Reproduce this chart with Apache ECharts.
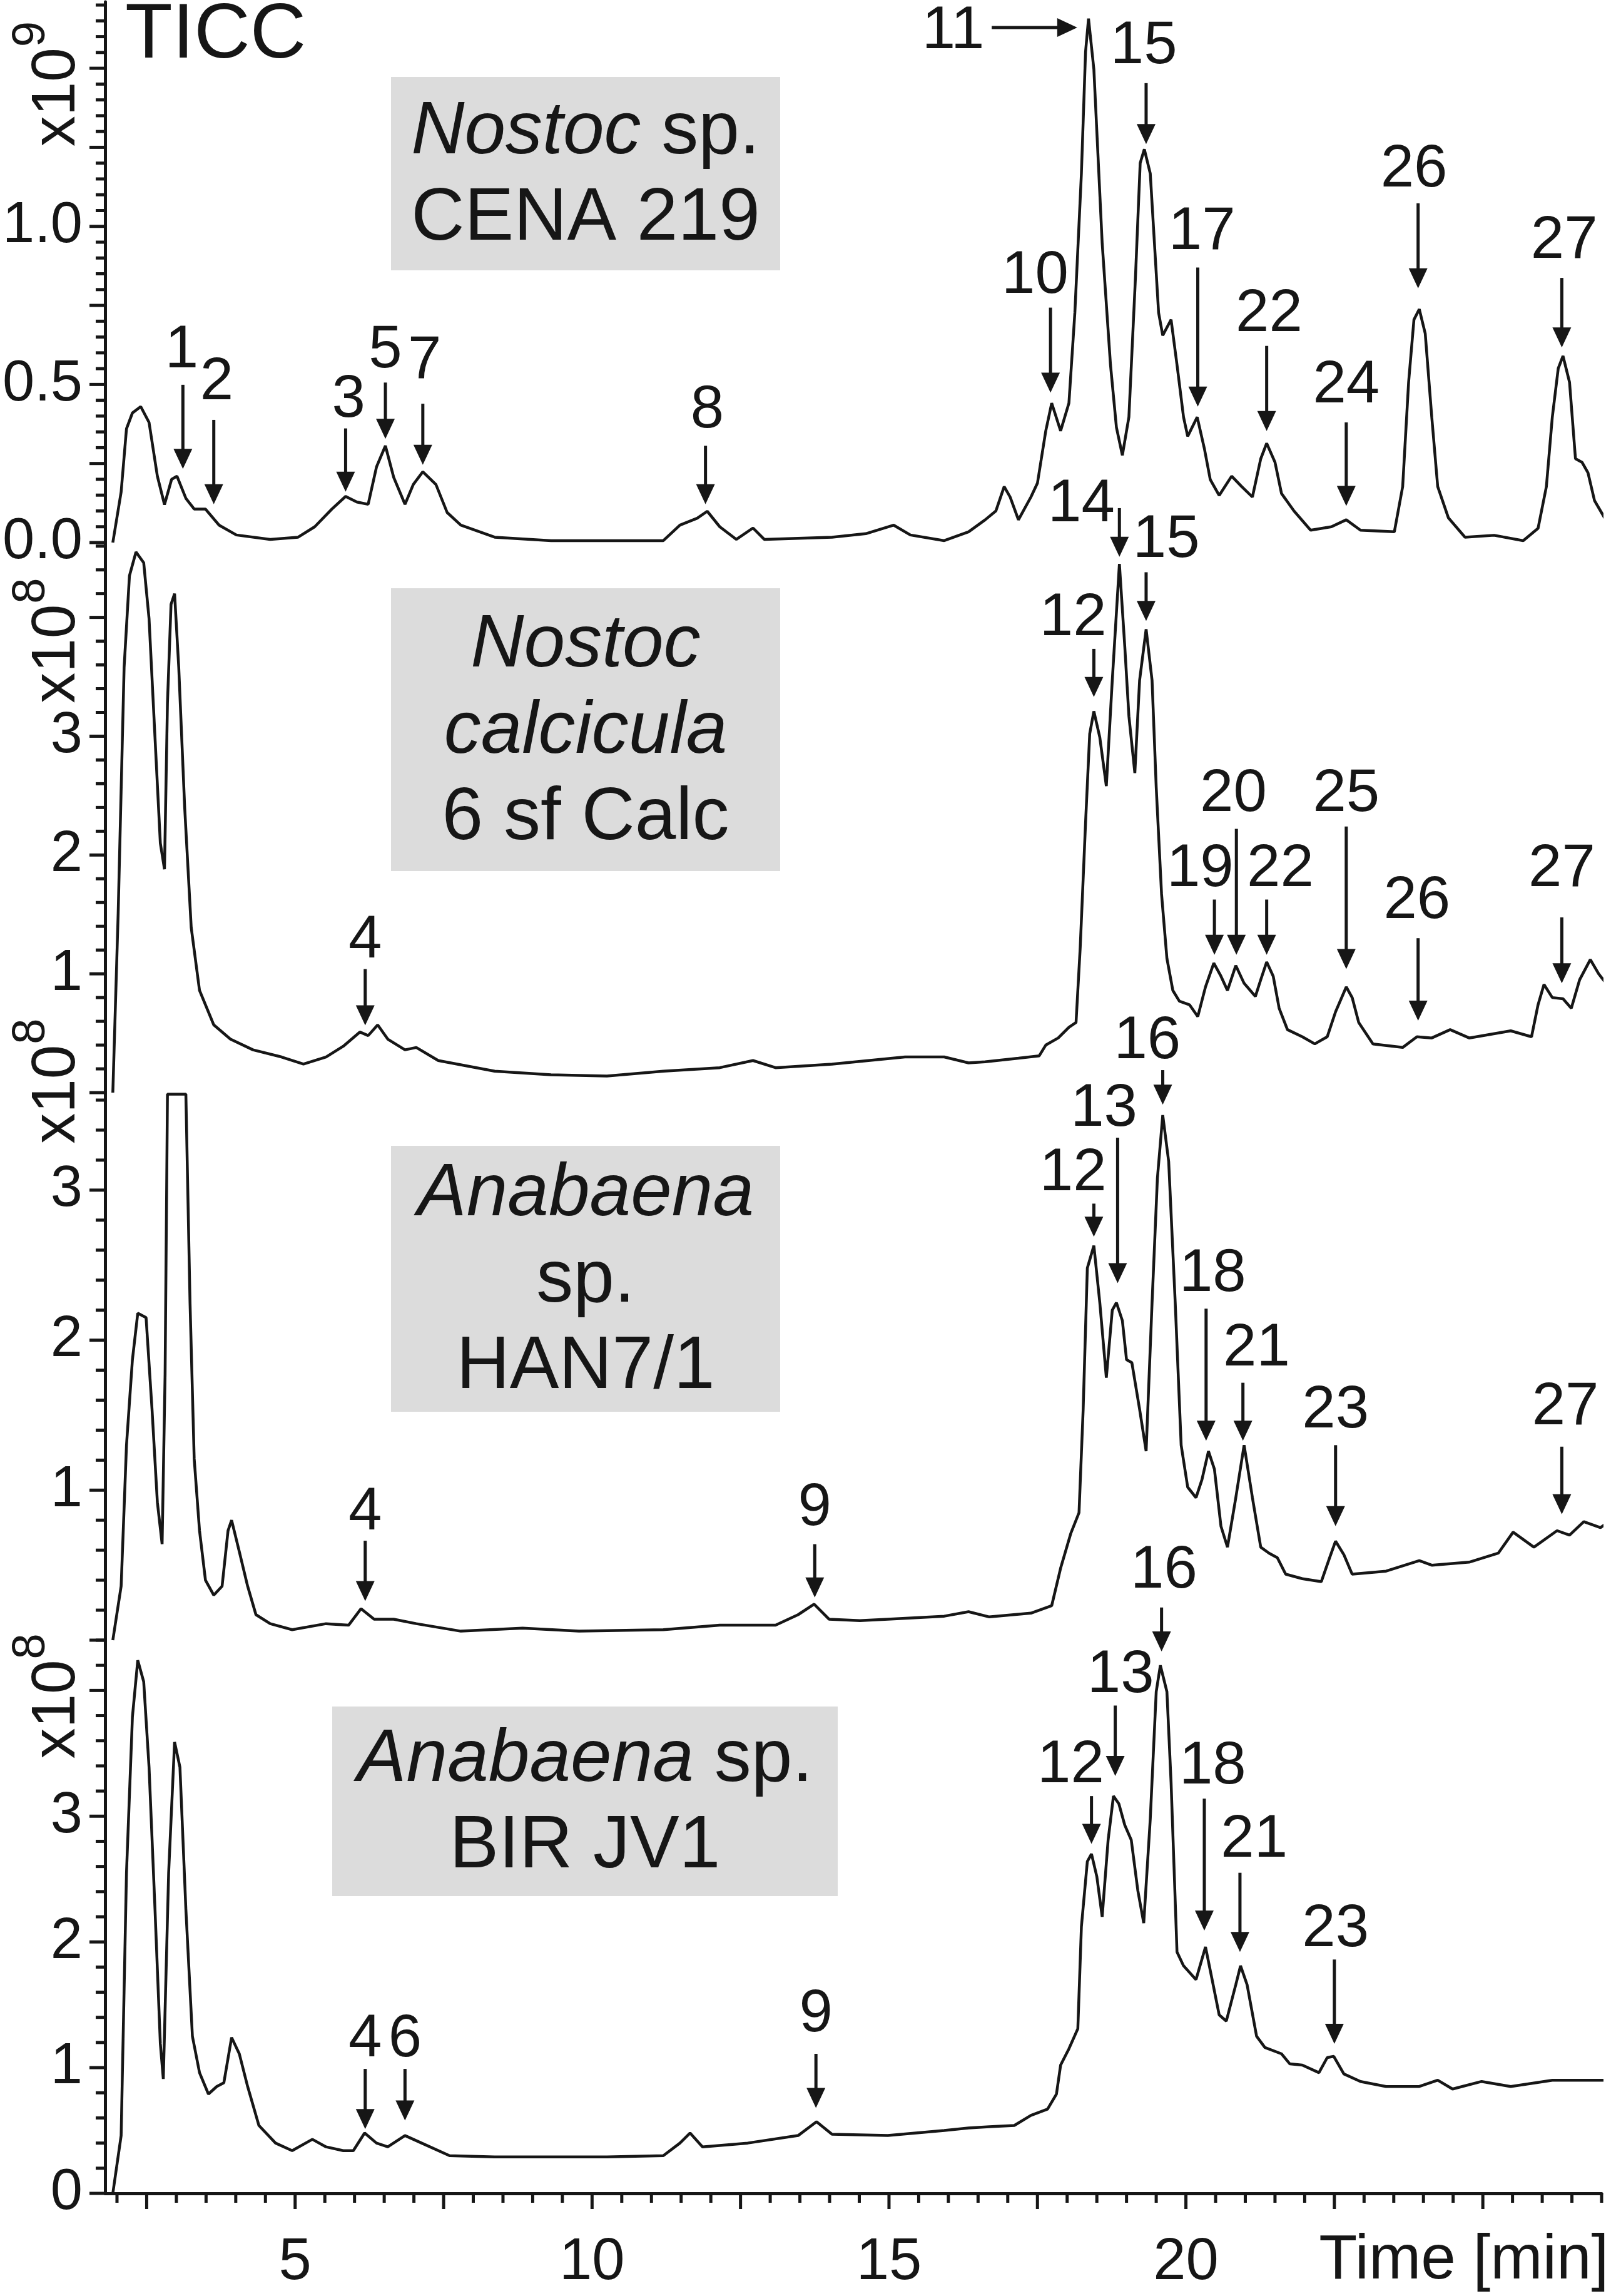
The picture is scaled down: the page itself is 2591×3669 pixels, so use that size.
<!DOCTYPE html>
<html>
<head>
<meta charset="utf-8">
<script src="https://cdn.jsdelivr.net/npm/echarts@6/dist/echarts.min.js"></script>
<style>
html, body { margin: 0; padding: 0; background: #fff; }
#chart { width: 2591px; height: 3669px; }
</style>
</head>
<body>
<div id="chart"></div>
<script>
// retention time [min] vs. total ion current; panel 1 in 1e9, panels 2-4 in 1e8
const P1_CURVE = [
  [1.93,0.0],[2.07,0.16],[2.16,0.36],[2.26,0.41],[2.40,0.43],[2.54,0.38],[2.68,0.21],[2.80,0.12],[2.92,0.20],[3.01,0.21],
  [3.16,0.14],[3.30,0.106],[3.49,0.106],[3.72,0.055],[4.01,0.024],[4.58,0.01],[5.05,0.017],[5.33,0.05],[5.62,0.106],[5.85,0.146],
  [6.04,0.128],[6.23,0.121],[6.37,0.239],[6.52,0.306],[6.66,0.206],[6.85,0.121],[6.99,0.184],[7.15,0.224],[7.37,0.184],[7.56,0.095],
  [7.79,0.055],[8.36,0.017],[9.31,0.006],[10.25,0.006],[11.20,0.006],[11.48,0.055],[11.77,0.077],[11.94,0.099],[12.15,0.05],[12.43,0.01],
  [12.71,0.046],[12.90,0.01],[14.04,0.017],[14.61,0.028],[15.08,0.055],[15.36,0.024],[15.93,0.006],[16.34,0.034],[16.62,0.072],[16.80,0.10],
  [16.94,0.177],[17.04,0.144],[17.18,0.072],[17.39,0.144],[17.50,0.188],[17.64,0.353],[17.74,0.441],[17.89,0.353],[18.03,0.441],[18.13,0.727],
  [18.24,1.167],[18.31,1.552],[18.36,1.657],[18.45,1.497],[18.59,0.947],[18.73,0.562],[18.83,0.364],[18.93,0.276],[19.04,0.397],[19.15,0.837],
  [19.23,1.20],[19.30,1.244],[19.40,1.167],[19.47,0.947],[19.54,0.727],[19.61,0.655],[19.75,0.705],[19.85,0.562],[19.96,0.397],[20.03,0.336],
  [20.19,0.397],[20.31,0.298],[20.41,0.199],[20.56,0.149],[20.77,0.21],[20.94,0.177],[21.12,0.144],[21.26,0.265],[21.36,0.314],[21.50,0.254],
  [21.61,0.155],[21.82,0.10],[22.10,0.039],[22.45,0.05],[22.70,0.072],[22.94,0.039],[23.51,0.034],[23.65,0.177],[23.75,0.507],[23.84,0.705],
  [23.93,0.738],[24.03,0.661],[24.14,0.397],[24.24,0.177],[24.42,0.078],[24.70,0.017],[25.19,0.023],[25.68,0.006],[25.93,0.045],[26.07,0.177],
  [26.17,0.397],[26.27,0.551],[26.35,0.59],[26.46,0.507],[26.56,0.265],[26.67,0.254],[26.77,0.221],[26.88,0.133],[27.05,0.078],[27.23,0.045]
];
const P2_CURVE = [
  [1.93,0.0],[2.02,1.51],[2.12,3.58],[2.21,4.35],[2.32,4.55],[2.45,4.46],[2.54,3.99],[2.64,2.99],[2.73,2.10],[2.80,1.88],
  [2.85,3.28],[2.91,4.11],[2.97,4.20],[3.04,3.58],[3.14,2.40],[3.25,1.39],[3.39,0.86],[3.63,0.57],[3.91,0.45],[4.29,0.36],
  [4.77,0.30],[5.14,0.24],[5.52,0.30],[5.81,0.39],[6.09,0.51],[6.23,0.48],[6.39,0.57],[6.56,0.45],[6.85,0.36],[7.04,0.38],
  [7.41,0.27],[8.36,0.18],[9.31,0.15],[10.25,0.14],[11.20,0.18],[12.15,0.21],[12.71,0.27],[13.09,0.21],[14.04,0.24],[15.27,0.30],
  [15.93,0.30],[16.34,0.25],[16.62,0.26],[17.18,0.29],[17.53,0.31],[17.64,0.40],[17.85,0.46],[18.03,0.55],[18.15,0.59],[18.22,1.22],
  [18.31,2.27],[18.38,3.02],[18.45,3.21],[18.55,2.99],[18.66,2.58],[18.76,3.47],[18.88,4.45],[18.97,3.76],[19.04,3.17],[19.14,2.69],
  [19.22,3.47],[19.33,3.90],[19.43,3.47],[19.50,2.57],[19.59,1.67],[19.68,1.13],[19.78,0.86],[19.89,0.77],[20.06,0.74],[20.20,0.64],
  [20.33,0.89],[20.47,1.09],[20.59,0.98],[20.70,0.86],[20.84,1.07],[20.98,0.92],[21.17,0.81],[21.26,0.95],[21.36,1.10],[21.47,0.98],
  [21.57,0.71],[21.71,0.53],[21.96,0.47],[22.17,0.41],[22.38,0.47],[22.52,0.68],[22.70,0.89],[22.80,0.80],[22.91,0.59],[23.15,0.41],
  [23.65,0.38],[23.89,0.47],[24.14,0.46],[24.45,0.53],[24.77,0.46],[25.12,0.49],[25.47,0.52],[25.82,0.47],[25.93,0.74],[26.03,0.91],
  [26.17,0.80],[26.35,0.79],[26.49,0.71],[26.63,0.95],[26.81,1.12],[26.95,1.00],[27.09,0.91],[27.23,0.83]
];
const P3_CURVE = [
  [1.93,0.0],[2.07,0.36],[2.16,1.30],[2.26,1.87],[2.35,2.18],[2.49,2.15],[2.59,1.54],[2.68,0.92],[2.76,0.64],[2.81,1.77],
  [2.85,3.64],[3.16,3.64],[3.23,2.25],[3.30,1.21],[3.39,0.73],[3.49,0.40],[3.63,0.30],[3.77,0.36],[3.87,0.73],[3.93,0.80],
  [4.06,0.59],[4.20,0.36],[4.34,0.17],[4.58,0.11],[4.95,0.07],[5.52,0.11],[5.90,0.10],[6.11,0.21],[6.33,0.14],[6.66,0.14],
  [7.04,0.11],[7.79,0.06],[8.83,0.08],[9.78,0.06],[11.20,0.07],[12.15,0.10],[13.09,0.10],[13.47,0.17],[13.74,0.24],[13.99,0.14],
  [14.51,0.13],[14.98,0.14],[15.93,0.16],[16.34,0.19],[16.69,0.155],[17.39,0.18],[17.74,0.23],[17.89,0.48],[18.06,0.71],[18.20,0.85],
  [18.27,1.54],[18.34,2.48],[18.45,2.63],[18.55,2.25],[18.66,1.75],[18.76,2.20],[18.83,2.25],[18.93,2.13],[19.00,1.87],[19.09,1.85],
  [19.22,1.54],[19.33,1.26],[19.43,2.25],[19.52,3.08],[19.61,3.50],[19.71,3.19],[19.82,2.25],[19.92,1.30],[20.03,1.02],[20.17,0.95],
  [20.27,1.07],[20.38,1.26],[20.48,1.14],[20.59,0.76],[20.70,0.62],[20.84,0.95],[20.98,1.30],[21.12,0.95],[21.26,0.62],[21.40,0.58],
  [21.54,0.55],[21.68,0.44],[21.96,0.41],[22.28,0.39],[22.42,0.55],[22.52,0.66],[22.66,0.57],[22.80,0.44],[23.37,0.46],[23.93,0.53],
  [24.14,0.50],[24.77,0.52],[25.26,0.58],[25.51,0.72],[25.86,0.62],[26.25,0.73],[26.46,0.70],[26.70,0.79],[26.98,0.75],[27.23,0.82]
];
const P4_CURVE = [
  [1.93,0.0],[2.07,0.46],[2.16,2.55],[2.26,3.79],[2.35,4.24],[2.45,4.07],[2.54,3.39],[2.64,2.26],[2.73,1.19],[2.78,0.91],
  [2.87,2.55],[2.97,3.59],[3.06,3.39],[3.16,2.26],[3.27,1.25],[3.39,0.96],[3.54,0.79],[3.68,0.85],[3.80,0.88],[3.93,1.24],
  [4.06,1.11],[4.20,0.85],[4.39,0.54],[4.67,0.40],[4.95,0.34],[5.29,0.43],[5.52,0.37],[5.81,0.34],[5.98,0.34],[6.17,0.48],
  [6.37,0.40],[6.56,0.37],[6.85,0.46],[7.13,0.40],[7.60,0.30],[8.36,0.29],[9.31,0.29],[10.25,0.29],[11.20,0.30],[11.48,0.40],
  [11.65,0.48],[11.86,0.37],[12.62,0.40],[13.47,0.46],[13.78,0.57],[14.04,0.47],[14.98,0.46],[15.93,0.50],[16.34,0.52],[16.69,0.53],
  [17.11,0.54],[17.39,0.62],[17.67,0.67],[17.82,0.79],[17.89,1.02],[18.03,1.15],[18.18,1.31],[18.24,2.12],[18.34,2.64],[18.41,2.70],
  [18.50,2.52],[18.59,2.20],[18.69,2.81],[18.78,3.16],[18.87,3.10],[18.97,2.93],[19.08,2.81],[19.19,2.41],[19.29,2.15],[19.40,2.98],
  [19.50,3.99],[19.57,4.20],[19.68,3.99],[19.75,3.27],[19.85,1.92],[19.96,1.81],[20.17,1.70],[20.33,1.96],[20.45,1.68],[20.56,1.42],
  [20.68,1.37],[20.84,1.66],[20.92,1.81],[21.03,1.66],[21.19,1.25],[21.33,1.16],[21.61,1.11],[21.75,1.03],[21.96,1.02],[22.24,0.96],
  [22.38,1.08],[22.49,1.09],[22.66,0.95],[22.94,0.89],[23.37,0.85],[23.93,0.85],[24.24,0.90],[24.49,0.83],[24.98,0.89],[25.47,0.85],
  [26.17,0.90],[26.88,0.90],[27.23,0.90]
];

// peak arrows: [label, tail t, tail value, tip t, tip value, label t, label value]
const P1_ARROWS = [
  ['1', 3.11, 0.499, 3.11, 0.233, 3.09, 0.606],
  ['2', 3.63, 0.388, 3.63, 0.121, 3.68, 0.506],
  ['3', 5.85, 0.361, 5.85, 0.161, 5.90, 0.45],
  ['5', 6.52, 0.506, 6.52, 0.328, 6.52, 0.606],
  ['7', 7.15, 0.439, 7.15, 0.246, 7.18, 0.572],
  ['8', 11.91, 0.306, 11.91, 0.121, 11.94, 0.417],
  ['10', 17.72, 0.743, 17.72, 0.474, 17.46, 0.842],
  ['11', 16.73, 1.629, 18.17, 1.629, 16.08, 1.616],
  ['15', 19.33, 1.453, 19.33, 1.26, 19.29, 1.568],
  ['17', 20.20, 0.87, 20.20, 0.43, 20.27, 0.98],
  ['22', 21.36, 0.622, 21.36, 0.353, 21.40, 0.721],
  ['24', 22.70, 0.38, 22.70, 0.116, 22.70, 0.496],
  ['26', 23.91, 1.073, 23.91, 0.804, 23.84, 1.178],
  ['27', 26.33, 0.837, 26.33, 0.617, 26.37, 0.952]
];
const P2_ARROWS = [
  ['14', 18.88, 4.92, 18.88, 4.51, 18.24, 4.95],
  ['15', 19.33, 4.38, 19.33, 3.97, 19.67, 4.65],
  ['12', 18.45, 3.735, 18.45, 3.33, 18.10, 3.99],
  ['4', 6.18, 1.04, 6.18, 0.566, 6.18, 1.275],
  ['19', 20.48, 1.625, 20.48, 1.16, 20.24, 1.88],
  ['20', 20.85, 2.22, 20.85, 1.16, 20.80, 2.51],
  ['22', 21.36, 1.625, 21.36, 1.16, 21.59, 1.88],
  ['25', 22.70, 2.24, 22.70, 1.04, 22.70, 2.51],
  ['26', 23.91, 1.30, 23.91, 0.606, 23.89, 1.61],
  ['27', 26.33, 1.475, 26.33, 0.92, 26.33, 1.88]
];
const P3_ARROWS = [
  ['16', 19.61, 3.80, 19.61, 3.57, 19.35, 3.99],
  ['13', 18.85, 3.35, 18.85, 2.38, 18.62, 3.54],
  ['12', 18.45, 2.91, 18.45, 2.69, 18.10, 3.11],
  ['18', 20.34, 2.21, 20.34, 1.33, 20.45, 2.44],
  ['21', 20.96, 1.716, 20.96, 1.33, 21.19, 1.94],
  ['23', 22.52, 1.30, 22.52, 0.76, 22.52, 1.53],
  ['27', 26.33, 1.29, 26.33, 0.84, 26.39, 1.55],
  ['4', 6.18, 0.663, 6.18, 0.261, 6.18, 0.85],
  ['9', 13.75, 0.64, 13.75, 0.285, 13.75, 0.876]
];
const P4_ARROWS = [
  ['16', 19.59, 4.66, 19.59, 4.31, 19.63, 4.95],
  ['13', 18.81, 3.88, 18.81, 3.32, 18.90, 4.12],
  ['12', 18.41, 3.16, 18.41, 2.78, 18.06, 3.40],
  ['18', 20.31, 3.14, 20.31, 2.09, 20.45, 3.39],
  ['21', 20.91, 2.55, 20.91, 1.92, 21.15, 2.81],
  ['23', 22.50, 1.86, 22.50, 1.19, 22.52, 2.10],
  ['4', 6.18, 0.99, 6.18, 0.512, 6.18, 1.22],
  ['6', 6.85, 0.99, 6.85, 0.58, 6.85, 1.22],
  ['9', 13.77, 1.11, 13.77, 0.68, 13.77, 1.42]
];

const STRAINS = [
  '{i|Nostoc} sp.\nCENA 219',
  '{i|Nostoc}\n{i|calcicula}\n6 sf Calc',
  '{i|Anabaena}\nsp.\nHAN7/1',
  '{i|Anabaena} sp.\nBIR JV1'
];
const SCALE_EXP = ['9', '8', '8', '8'];

// axis ticks
const X_MIN = 1.8, X_MAX = 27.0;
const X_MAJOR = [2.5, 5, 7.5, 10, 12.5, 15, 17.5, 20, 22.5, 25];
const X_LABELS = [5, 10, 15, 20];
const P1_MAJOR = [0, 0.25, 0.5, 0.75, 1.0, 1.25, 1.5];
const P1_LABELS = [0, 0.5, 1.0];
const P2_MAJOR = [0, 1, 2, 3, 4];
const P2_LABELS = [1, 2, 3];
const P3_MAJOR = [0, 1, 2, 3];
const P3_LABELS = [1, 2, 3];
const P4_MAJOR = [0, 1, 2, 3, 4];
const P4_LABELS = [0, 1, 2, 3];

const INK = '#161616';
const FONT = '"Liberation Sans", Arial, Helvetica, sans-serif';
const HEAD_LEN = 32, HEAD_HALF = 15;
const MAJOR_LEN = 25, MINOR_LEN = 15, TICK_W = 5;

const panels = [
  { curve: P1_CURVE, arrows: P1_ARROWS, max: 1.71, major: P1_MAJOR, labels: P1_LABELS, step: 0.05, dec: 1, top: 3, height: 864, scaleAt: 1.452, box: [625, 123, 622, 309] },
  { curve: P2_CURVE, arrows: P2_ARROWS, max: 4.63, major: P2_MAJOR, labels: P2_LABELS, step: 0.2, dec: 0, top: 867, height: 879, scaleAt: 3.81, box: [625, 940, 622, 452] },
  { curve: P3_CURVE, arrows: P3_ARROWS, max: 3.65, major: P3_MAJOR, labels: P3_LABELS, step: 0.2, dec: 0, top: 1746, height: 875, scaleAt: 3.73, box: [625, 1831, 622, 425] },
  { curve: P4_CURVE, arrows: P4_ARROWS, max: 4.40, major: P4_MAJOR, labels: P4_LABELS, step: 0.2, dec: 0, top: 2621, height: 884, scaleAt: 3.96, box: [531, 2727, 808, 303] }
];

function minorTicks(from, to, step, major) {
  const out = [];
  for (let k = Math.ceil(from / step - 1e-9); k * step <= to + 1e-9; k++) {
    const v = +(k * step).toFixed(4);
    if (!major.some(m => Math.abs(m - v) < 1e-6)) out.push(v);
  }
  return out;
}

const chart = echarts.init(document.getElementById('chart'), null, { renderer: 'canvas' });

const grids = [], xAxes = [], yAxes = [], series = [];

panels.forEach((p, i) => {
  grids.push({ left: 168, width: 2392, top: p.top, height: p.height });
  xAxes.push({
    type: 'value', gridIndex: i, min: X_MIN, max: X_MAX, show: i === 3, position: 'bottom',
    axisLine: { show: true, onZero: false, lineStyle: { color: INK, width: 5 } },
    axisTick: { show: false },
    axisLabel: { show: true, customValues: X_LABELS, margin: 64, fontSize: 94, fontFamily: FONT, color: INK },
    splitLine: { show: false }
  });
  yAxes.push({
    type: 'value', gridIndex: i, min: 0, max: p.max, position: 'left',
    axisLine: { show: true, onZero: false, lineStyle: { color: INK, width: 5 } },
    axisTick: { show: false },
    axisLabel: {
      show: true, customValues: p.labels, margin: 36, fontSize: 92, fontFamily: FONT, color: INK,
      formatter: v => Number(v).toFixed(p.dec)
    },
    splitLine: { show: false }
  });

  series.push({
    type: 'line', xAxisIndex: i, yAxisIndex: i, data: p.curve, clip: false,
    showSymbol: false, symbol: 'none', silent: true,
    lineStyle: { color: INK, width: 4.5 }
  });

  const rows = p.arrows;
  series.push({
    type: 'custom', xAxisIndex: i, yAxisIndex: i, clip: false, silent: true,
    data: rows.map(r => r.slice(1)),
    encode: { x: [0, 2, 4], y: [1, 3, 5] },
    renderItem: function (params, api) {
      const a = api.coord([api.value(0), api.value(1)]);
      const b = api.coord([api.value(2), api.value(3)]);
      const l = api.coord([api.value(4), api.value(5)]);
      const dx = b[0] - a[0], dy = b[1] - a[1];
      const len = Math.sqrt(dx * dx + dy * dy) || 1;
      const ux = dx / len, uy = dy / len;
      const hx = b[0] - ux * HEAD_LEN, hy = b[1] - uy * HEAD_LEN;
      const nx = -uy * HEAD_HALF, ny = ux * HEAD_HALF;
      return {
        type: 'group',
        children: [
          { type: 'line', shape: { x1: a[0], y1: a[1], x2: hx + ux * 3, y2: hy + uy * 3 }, style: { stroke: INK, lineWidth: 5 } },
          { type: 'polygon', shape: { points: [[b[0], b[1]], [hx + nx, hy + ny], [hx - nx, hy - ny]] }, style: { fill: INK } },
          { type: 'text', style: { x: l[0], y: l[1], text: rows[params.dataIndex][0], fontSize: 96, fontFamily: FONT, fill: INK, align: 'center', verticalAlign: 'middle' } }
        ]
      };
    }
  });
});

chart.setOption({
  animation: false,
  backgroundColor: '#ffffff',
  grid: grids,
  xAxis: xAxes,
  yAxis: yAxes,
  series: series
});

// ticks, labels and boxes placed after layout so they follow the axis scales
const gfx = [];
function tickLine(i, t, v, len, onX) {
  const p = chart.convertToPixel({ xAxisIndex: i, yAxisIndex: i }, [t, v]);
  const shape = onX
    ? { x1: p[0], y1: p[1], x2: p[0], y2: p[1] + len }
    : { x1: p[0] - len, y1: p[1], x2: p[0], y2: p[1] };
  gfx.push({ type: 'line', z: 20, silent: true, shape: shape, style: { stroke: INK, lineWidth: TICK_W } });
}
panels.forEach((p, i) => {
  p.major.forEach(v => tickLine(i, X_MIN, v, MAJOR_LEN, false));
  minorTicks(0, p.max, p.step, p.major).forEach(v => tickLine(i, X_MIN, v, MINOR_LEN, false));
});
X_MAJOR.forEach(t => tickLine(3, t, 0, MAJOR_LEN, true));
minorTicks(2, 27, 0.5, X_MAJOR).forEach(t => tickLine(3, t, 0, MINOR_LEN, true));

gfx.push({
  type: 'text', x: 200, y: 58, z: 10,
  style: { text: 'TICC', fontSize: 124, fontFamily: FONT, fill: INK, align: 'left', verticalAlign: 'middle' }
});
panels.forEach((p, i) => {
  const [bx, by, bw, bh] = p.box;
  gfx.push({ type: 'rect', z: 5, shape: { x: bx, y: by, width: bw, height: bh }, style: { fill: '#dcdcdc' } });
  gfx.push({
    type: 'text', z: 6, x: bx + bw / 2, y: by + bh / 2 + 4,
    style: {
      text: STRAINS[i], fontSize: 118, fontFamily: FONT, fill: INK, lineHeight: 138,
      align: 'center', verticalAlign: 'middle',
      rich: { i: { fontStyle: 'italic', fontSize: 118, fontFamily: FONT, lineHeight: 138, fill: INK } }
    }
  });
  const pos = chart.convertToPixel({ xAxisIndex: i, yAxisIndex: i }, [X_MIN, p.scaleAt]);
  gfx.push({
    type: 'group', x: pos[0] - 41, y: pos[1], rotation: Math.PI / 2, z: 10,
    children: [
      { type: 'text', x: -101, y: -35, style: { text: 'x10', fontSize: 98, fontFamily: FONT, fill: INK, align: 'left', verticalAlign: 'middle' } },
      { type: 'text', x: 58, y: -76, style: { text: SCALE_EXP[i], fontSize: 74, fontFamily: FONT, fill: INK, align: 'left', verticalAlign: 'middle' } }
    ]
  });
});
const tpos = chart.convertToPixel({ xAxisIndex: 3, yAxisIndex: 3 }, [24.68, 0]);
gfx.push({
  type: 'text', x: tpos[0], y: tpos[1] + 108, z: 10,
  style: { text: 'Time [min]', fontSize: 100, fontFamily: FONT, fill: INK, align: 'center', verticalAlign: 'middle' }
});
chart.setOption({ graphic: gfx });
</script>
</body>
</html>
